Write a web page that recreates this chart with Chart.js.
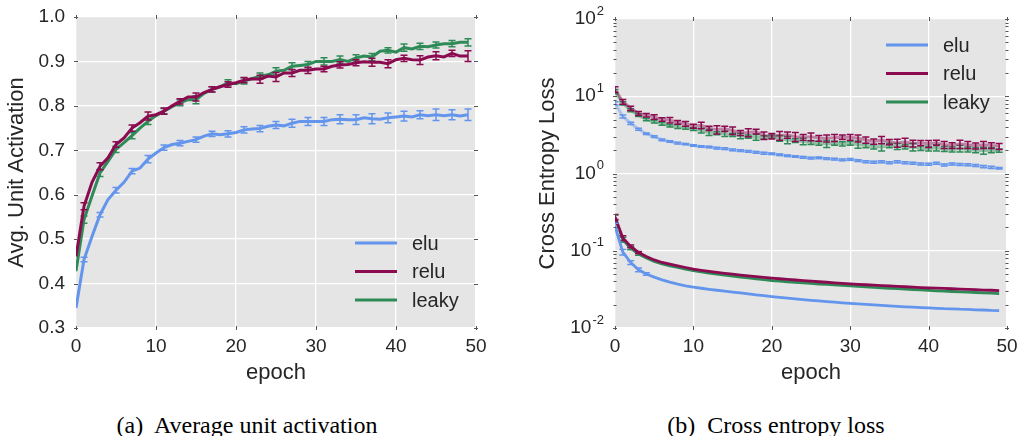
<!DOCTYPE html>
<html>
<head>
<meta charset="utf-8">
<script src="https://cdn.jsdelivr.net/npm/chart.js@4.4.0/dist/chart.umd.min.js"></script>
<style>
  body { margin: 0; background: #fff; width: 1019px; height: 436px; overflow: hidden; position: relative; }
  canvas { position: absolute; top: 0; }
  #activationChart { left: 0; }
  #lossChart { left: 510px; }
  .caption { position: absolute; top: 413px; font: 24px "Liberation Serif", "Times New Roman", serif; line-height: 24px; white-space: pre; color: #000; transform: translateX(-50%); }
</style>
</head>
<body>
<canvas id="activationChart" width="510" height="390"></canvas>
<canvas id="lossChart" width="509" height="390"></canvas>
<div class="caption" style="left:247px">(a)  Average unit activation</div>
<div class="caption" style="left:776px">(b)  Cross entropy loss</div>

<script>
// epochs 0..49
const epochs = Array.from({ length: 50 }, (_, i) => i);

// ---- (a) average unit activation ----
const activationTicks = [0.3, 0.4, 0.5, 0.6, 0.7, 0.8, 0.9, 1.0];
const epochTicks = [0, 10, 20, 30, 40, 50];

const eluActivation = [
    0.345, 0.454, 0.506, 0.555, 0.589, 0.610, 0.628, 0.653, 0.660, 0.680,
    0.694, 0.706, 0.713, 0.716, 0.720, 0.724, 0.732, 0.737, 0.735, 0.737,
    0.740, 0.746, 0.748, 0.749, 0.754, 0.757, 0.755, 0.761, 0.765, 0.765,
    0.765, 0.765, 0.769, 0.770, 0.769, 0.769, 0.773, 0.771, 0.770, 0.773,
    0.775, 0.777, 0.775, 0.780, 0.778, 0.780, 0.778, 0.780, 0.777, 0.780
];
const reluActivation = [
    0.461, 0.574, 0.628, 0.664, 0.683, 0.713, 0.728, 0.750, 0.762, 0.777,
    0.780, 0.788, 0.800, 0.810, 0.820, 0.820, 0.830, 0.837, 0.843, 0.848,
    0.852, 0.858, 0.861, 0.860, 0.867, 0.865, 0.874, 0.874, 0.880, 0.880,
    0.883, 0.883, 0.889, 0.892, 0.893, 0.897, 0.899, 0.898, 0.898, 0.895,
    0.904, 0.907, 0.904, 0.903, 0.910, 0.913, 0.910, 0.918, 0.912, 0.912
];
const leakyActivation = [
    0.428, 0.544, 0.597, 0.649, 0.675, 0.702, 0.717, 0.733, 0.750, 0.765,
    0.778, 0.788, 0.798, 0.807, 0.814, 0.814, 0.828, 0.837, 0.843, 0.852,
    0.850, 0.856, 0.861, 0.867, 0.870, 0.878, 0.880, 0.889, 0.891, 0.893,
    0.900, 0.900, 0.900, 0.904, 0.900, 0.908, 0.912, 0.910, 0.923, 0.925,
    0.921, 0.931, 0.928, 0.934, 0.933, 0.937, 0.940, 0.940, 0.943, 0.943
];
// error half-widths, drawn at odd epochs 1, 3, ..., 49
const eluActivationErr = [
    0.005, 0.005, 0.006, 0.006, 0.008, 0.006, 0.006, 0.006, 0.006, 0.007,
    0.007, 0.007, 0.008, 0.009, 0.009, 0.009, 0.010, 0.011, 0.011, 0.011,
    0.011, 0.009, 0.013, 0.011, 0.013
];
const reluActivationErr = [
    0.008, 0.008, 0.006, 0.007, 0.009, 0.007, 0.006, 0.009, 0.006, 0.006,
    0.006, 0.009, 0.010, 0.008, 0.007, 0.006, 0.007, 0.007, 0.009, 0.009,
    0.007, 0.010, 0.009, 0.007, 0.012
];
const leakyActivationErr = [
    0.008, 0.008, 0.007, 0.007, 0.007, 0.006, 0.007, 0.009, 0.006, 0.007,
    0.007, 0.007, 0.008, 0.008, 0.007, 0.008, 0.008, 0.007, 0.008, 0.006,
    0.008, 0.007, 0.007, 0.007, 0.008
];

// ---- (b) cross entropy loss ----
const lossTicks = [0.01, 0.1, 1, 10, 100];
const minorSteps = [2, 3, 4, 5, 6, 7, 8, 9];

// upper group (with error bars at every epoch)
const eluLossUpper = [
    8.1, 5.46, 4.47, 3.74, 3.27, 3.0, 2.72, 2.6, 2.47, 2.4,
    2.3, 2.23, 2.2, 2.13, 2.1, 2.02, 1.98, 1.93, 1.88, 1.83,
    1.8, 1.75, 1.7, 1.66, 1.62, 1.58, 1.6, 1.56, 1.53, 1.5,
    1.52, 1.47, 1.42, 1.4, 1.42, 1.38, 1.42, 1.38, 1.36, 1.33,
    1.32, 1.36, 1.29, 1.33, 1.31, 1.3, 1.27, 1.23, 1.2, 1.17
];
const reluLossUpper = [
    12.3, 8.5, 7.0, 6.0, 5.7, 5.4, 5.0, 4.9, 4.6, 4.4,
    4.1, 4.2, 3.85, 3.7, 3.8, 3.6, 3.35, 3.4, 3.5, 3.1,
    3.05, 3.1, 3.15, 3.0, 2.95, 3.0, 2.86, 2.85, 2.9, 2.95,
    2.95, 2.86, 2.72, 2.6, 2.72, 2.55, 2.48, 2.55, 2.45, 2.48,
    2.42, 2.5, 2.35, 2.3, 2.4, 2.35, 2.28, 2.35, 2.3, 2.25
];
const leakyLossUpper = [
    11.5, 8.1, 6.6, 5.7, 5.0, 4.7, 4.4, 4.15, 4.06, 3.9,
    3.75, 3.6, 3.4, 3.33, 3.27, 3.17, 3.07, 3.0, 2.94, 2.94,
    3.0, 2.86, 2.72, 2.67, 2.6, 2.52, 2.47, 2.42, 2.47, 2.42,
    2.47, 2.38, 2.3, 2.23, 2.2, 2.3, 2.25, 2.22, 2.2, 2.13,
    2.1, 2.15, 2.08, 2.05, 2.1, 2.05, 2.0, 1.98, 2.0, 1.98
];
const eluLossUpperErr = [
    0.4, 0.25, 0.15, 0.12, 0.08, 0.08, 0.07, 0.06, 0.06, 0.05,
    0.05, 0.05, 0.05, 0.05, 0.05, 0.05, 0.05, 0.05, 0.05, 0.05,
    0.04, 0.04, 0.04, 0.04, 0.04, 0.04, 0.04, 0.04, 0.04, 0.04,
    0.04, 0.04, 0.04, 0.04, 0.04, 0.04, 0.04, 0.04, 0.04, 0.04,
    0.04, 0.04, 0.04, 0.04, 0.04, 0.04, 0.04, 0.04, 0.04, 0.03
];
const reluLossUpperErr = [
    1.0, 0.6, 0.45, 0.35, 0.3, 0.35, 0.25, 0.4, 0.25, 0.3,
    0.25, 0.4, 0.25, 0.45, 0.3, 0.4, 0.25, 0.4, 0.25, 0.35,
    0.25, 0.4, 0.3, 0.4, 0.25, 0.35, 0.25, 0.3, 0.3, 0.2,
    0.25, 0.3, 0.25, 0.2, 0.3, 0.2, 0.3, 0.3, 0.25, 0.2,
    0.25, 0.2, 0.25, 0.2, 0.3, 0.25, 0.2, 0.25, 0.2, 0.2
];
const leakyLossUpperErr = [
    0.7, 0.4, 0.3, 0.25, 0.2, 0.2, 0.2, 0.15, 0.25, 0.15,
    0.15, 0.25, 0.3, 0.15, 0.25, 0.15, 0.25, 0.15, 0.25, 0.15,
    0.15, 0.25, 0.3, 0.15, 0.25, 0.15, 0.15, 0.25, 0.15, 0.15,
    0.15, 0.25, 0.15, 0.15, 0.25, 0.15, 0.2, 0.15, 0.25, 0.15,
    0.15, 0.2, 0.15, 0.15, 0.2, 0.15, 0.15, 0.2, 0.15, 0.1
];

// lower group (solid lines, these are in the legend)
const eluLossLower = [
    0.207, 0.096, 0.0705, 0.0566, 0.050, 0.0455, 0.0420, 0.0392, 0.0370, 0.0352,
    0.0338, 0.0327, 0.0317, 0.0308, 0.0300, 0.0292, 0.0284, 0.0276, 0.0269, 0.0262,
    0.0255, 0.0249, 0.0243, 0.0238, 0.0233, 0.0228, 0.0224, 0.0220, 0.0216, 0.0212,
    0.0208, 0.0205, 0.0202, 0.0199, 0.0196, 0.0193, 0.0190, 0.0188, 0.0186, 0.0184,
    0.0182, 0.0180, 0.0178, 0.0177, 0.0175, 0.0174, 0.0172, 0.0171, 0.0169, 0.0168
];
const reluLossLower = [
    0.274, 0.146, 0.114, 0.095, 0.084, 0.076, 0.0705, 0.067, 0.0638, 0.0607,
    0.0578, 0.0558, 0.054, 0.0524, 0.051, 0.0497, 0.0485, 0.0473, 0.0462, 0.0452,
    0.0442, 0.0434, 0.0426, 0.0418, 0.0411, 0.0404, 0.0397, 0.0391, 0.0385, 0.0379,
    0.0373, 0.0368, 0.0363, 0.0358, 0.0354, 0.0350, 0.0346, 0.0342, 0.0338, 0.0334,
    0.0331, 0.0328, 0.0325, 0.0322, 0.0319, 0.0316, 0.0313, 0.0310, 0.0308, 0.0305
];
const leakyLossLower = [
    0.270, 0.139, 0.108, 0.0906, 0.0804, 0.0727, 0.0678, 0.0638, 0.0607, 0.0578,
    0.0552, 0.0532, 0.0514, 0.0498, 0.0484, 0.0470, 0.0457, 0.0445, 0.0433, 0.0422,
    0.0411, 0.0404, 0.0397, 0.0390, 0.0383, 0.0377, 0.0371, 0.0366, 0.0361, 0.0356,
    0.0351, 0.0346, 0.0341, 0.0336, 0.0331, 0.0327, 0.0323, 0.0319, 0.0315, 0.0311,
    0.0307, 0.0303, 0.0300, 0.0297, 0.0294, 0.0291, 0.0288, 0.0285, 0.0282, 0.0279
];
// only the first few epochs have visible bars
const eluLossLowerErr = [0.02, 0.008, 0.004, 0.003, 0.002];
const reluLossLowerErr = [0.02, 0.01, 0.005, 0.003];
const leakyLossLowerErr = [0.02, 0.01, 0.005, 0.003];

const BLUE = '#6495ed';
const MAROON = '#8b0a50';
const GREEN = '#2e8b57';
const TEXT = '#262626';
const FONT = '"Liberation Sans", Arial, sans-serif';

Chart.defaults.font.family = FONT;
Chart.defaults.color = TEXT;

// spread a list of errors onto the odd epochs
const onOddEpochs = list => epochs.map(e => (e % 2 ? list[(e - 1) / 2] : null));

// grey panel behind the plot
const plotBackground = {
    id: 'plotBackground',
    beforeDraw(chart) {
        const { ctx, chartArea: a } = chart;
        ctx.save();
        ctx.fillStyle = '#e5e5e5';
        ctx.fillRect(a.left, a.top, a.width, a.height);
        ctx.restore();
    }
};

// vertical error bars with caps, right after each dataset's line
const errorBars = {
    id: 'errorBars',
    afterDatasetDraw(chart, args) {
        const ds = chart.data.datasets[args.index];
        if (!ds.errors) return;
        const { ctx, chartArea: a, scales: { y } } = chart;
        const points = args.meta.data;
        ctx.save();
        ctx.beginPath();
        ctx.rect(a.left, a.top, a.width, a.height);
        ctx.clip();
        ctx.strokeStyle = ds.errorColor || ds.borderColor;
        ctx.lineWidth = 1.5;
        ds.data.forEach((v, i) => {
            const e = ds.errors[i];
            if (e == null || !points[i]) return;
            const px = points[i].x;
            const hi = y.getPixelForValue(v + e);
            const lo = y.getPixelForValue(v - e);
            ctx.beginPath();
            ctx.moveTo(px, hi); ctx.lineTo(px, lo);
            ctx.moveTo(px - 3.5, hi); ctx.lineTo(px + 3.5, hi);
            ctx.moveTo(px - 3.5, lo); ctx.lineTo(px + 3.5, lo);
            ctx.stroke();
        });
        ctx.restore();
    }
};

// small tick marks on all four edges of the panel
const edgeTicks = {
    id: 'edgeTicks',
    afterDraw(chart, args, opts) {
        const { ctx, chartArea: a, scales: { x, y } } = chart;
        ctx.save();
        ctx.strokeStyle = '#555';
        ctx.lineWidth = 1;
        ctx.beginPath();
        x.ticks.forEach(t => {
            const px = Math.round(x.getPixelForValue(t.value)) + 0.5;
            ctx.moveTo(px, a.top - 2); ctx.lineTo(px, a.top + 2);
            ctx.moveTo(px, a.bottom - 2); ctx.lineTo(px, a.bottom + 2);
        });
        y.ticks.forEach(t => {
            const py = Math.round(y.getPixelForValue(t.value)) + 0.5;
            ctx.moveTo(a.left - 2, py); ctx.lineTo(a.left + 2, py);
            ctx.moveTo(a.right - 2, py); ctx.lineTo(a.right + 2, py);
        });
        if (opts.minor) {
            lossTicks.slice(0, -1).forEach(d => {
                minorSteps.forEach(k => {
                    const py = Math.round(y.getPixelForValue(d * k)) + 0.5;
                    ctx.moveTo(a.left - 1.5, py); ctx.lineTo(a.left + 1.5, py);
                    ctx.moveTo(a.right - 1.5, py); ctx.lineTo(a.right + 1.5, py);
                });
            });
        }
        ctx.stroke();
        ctx.restore();
    }
};

// "10" with a raised exponent for the log axis
const powerLabels = {
    id: 'powerLabels',
    afterDraw(chart, args, opts) {
        if (!opts.enabled) return;
        const { ctx, chartArea: a, scales: { y } } = chart;
        ctx.save();
        ctx.fillStyle = TEXT;
        ctx.textBaseline = 'middle';
        ctx.textAlign = 'left';
        y.ticks.forEach(t => {
            const exp = Math.round(Math.log10(t.value));
            const sup = exp < 0 ? '-' + Math.abs(exp) : String(exp);
            const py = y.getPixelForValue(t.value);
            ctx.font = '13px ' + FONT;
            const supW = ctx.measureText(sup).width;
            ctx.font = '19px ' + FONT;
            const baseW = ctx.measureText('10').width;
            const x0 = a.left - 12 - supW - baseW;
            ctx.fillText('10', x0, py);
            ctx.font = '13px ' + FONT;
            ctx.fillText(sup, x0 + baseW + 1, py - 8);
        });
        ctx.restore();
    }
};

// legend drawn inside the panel with plain line swatches
const lineLegend = {
    id: 'lineLegend',
    afterDraw(chart, args, opts) {
        const { ctx, chartArea: a } = chart;
        const items = chart.data.datasets.filter(d => d.inLegend);
        ctx.save();
        ctx.font = '20px ' + FONT;
        ctx.textBaseline = 'middle';
        ctx.fillStyle = TEXT;
        items.forEach((d, i) => {
            const x0 = a.right - 121;
            const y0 = (opts.fromBottom ? a.bottom - opts.offset : a.top + opts.offset) + i * 28.5;
            ctx.strokeStyle = d.borderColor;
            ctx.lineWidth = 3;
            ctx.beginPath();
            ctx.moveTo(x0, y0); ctx.lineTo(x0 + 42, y0);
            ctx.stroke();
            ctx.fillText(d.label, x0 + 57, y0 + 1);
        });
        ctx.restore();
    }
};

function lineSet(label, data, color, extra) {
    return Object.assign({
        label: label,
        data: data,
        borderColor: color,
        borderWidth: 3,
        pointRadius: 0,
        tension: 0,
        fill: false
    }, extra);
}

// let the layout padding alone decide where the panel sits
const noLabelOverflow = scale => {
    scale.paddingLeft = 0; scale.paddingRight = 0;
    scale.paddingTop = 0; scale.paddingBottom = 0;
};

const xAxis = {
    type: 'linear',
    min: 0,
    max: 50,
    afterBuildTicks: scale => { scale.ticks = epochTicks.map(v => ({ value: v })); },
    afterFit: scale => { scale.height = 62; noLabelOverflow(scale); },
    grid: { color: '#ffffff', lineWidth: 1.3, drawTicks: false },
    border: { display: false },
    ticks: { font: { size: 19 }, padding: 7, maxRotation: 0 },
    title: { display: true, text: 'epoch', font: { size: 22 }, padding: { top: 0, bottom: 4 } }
};

new Chart(document.getElementById('activationChart'), {
    type: 'line',
    data: {
        labels: epochs,
        datasets: [
            lineSet('elu', eluActivation, BLUE, { errors: onOddEpochs(eluActivationErr), inLegend: true }),
            lineSet('relu', reluActivation, MAROON, { errors: onOddEpochs(reluActivationErr), inLegend: true }),
            lineSet('leaky', leakyActivation, GREEN, { errors: onOddEpochs(leakyActivationErr), inLegend: true })
        ]
    },
    options: {
        responsive: false,
        animation: false,
        layout: { padding: { top: 17, right: 34, left: 0, bottom: 0 } },
        plugins: {
            legend: { display: false },
            tooltip: { enabled: false },
            lineLegend: { fromBottom: true, offset: 85 },
            edgeTicks: { minor: false },
            powerLabels: { enabled: false }
        },
        scales: {
            x: xAxis,
            y: {
                min: 0.3,
                max: 1.0,
                afterBuildTicks: scale => { scale.ticks = activationTicks.map(v => ({ value: v })); },
                afterFit: scale => { scale.width = 76; noLabelOverflow(scale); },
                grid: { color: '#ffffff', lineWidth: 1.3, drawTicks: false },
                border: { display: false },
                ticks: { font: { size: 19 }, padding: 11, callback: v => v.toFixed(1) },
                title: { display: true, text: 'Avg. Unit Activation', font: { size: 22 }, padding: { top: 4, bottom: 0 } }
            }
        }
    },
    plugins: [plotBackground, errorBars, edgeTicks, lineLegend, powerLabels]
});

new Chart(document.getElementById('lossChart'), {
    type: 'line',
    data: {
        labels: epochs,
        datasets: [
            lineSet('elu', eluLossUpper, 'rgba(100,149,237,0.45)', { errors: eluLossUpperErr, errorColor: BLUE }),
            lineSet('relu', reluLossUpper, 'rgba(139,10,80,0.45)', { errors: reluLossUpperErr, errorColor: MAROON }),
            lineSet('leaky', leakyLossUpper, 'rgba(46,139,87,0.45)', { errors: leakyLossUpperErr, errorColor: GREEN }),
            lineSet('elu', eluLossLower, BLUE, { errors: eluLossLowerErr, inLegend: true, borderWidth: 2.8 }),
            lineSet('relu', reluLossLower, MAROON, { errors: reluLossLowerErr, inLegend: true, borderWidth: 2.8 }),
            lineSet('leaky', leakyLossLower, GREEN, { errors: leakyLossLowerErr, inLegend: true, borderWidth: 2.8 })
        ]
    },
    options: {
        responsive: false,
        animation: false,
        layout: { padding: { top: 19, right: 12, left: 0, bottom: 0 } },
        plugins: {
            legend: { display: false },
            tooltip: { enabled: false },
            lineLegend: { fromBottom: false, offset: 26 },
            edgeTicks: { minor: true },
            powerLabels: { enabled: true }
        },
        scales: {
            x: xAxis,
            y: {
                type: 'logarithmic',
                min: 0.01,
                max: 100,
                afterBuildTicks: scale => { scale.ticks = lossTicks.map(v => ({ value: v })); },
                afterFit: scale => { scale.width = 105; noLabelOverflow(scale); },
                grid: { color: '#ffffff', lineWidth: 1.3, drawTicks: false },
                border: { display: false },
                ticks: { display: false },
                title: { display: true, text: 'Cross Entropy Loss', font: { size: 22 }, padding: { top: 25, bottom: 0 } }
            }
        }
    },
    plugins: [plotBackground, errorBars, edgeTicks, lineLegend, powerLabels]
});
</script>
</body>
</html>
